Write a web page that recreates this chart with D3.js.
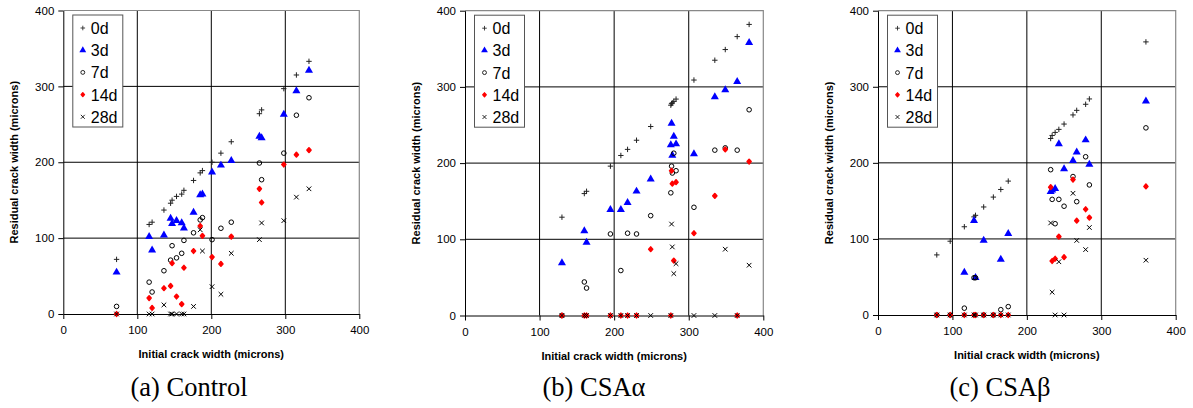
<!DOCTYPE html>
<html>
<head>
<meta charset="utf-8" />
<title>Residual crack width</title>
<script src="https://d3js.org/d3.v7.min.js"></script>
<style>
  body { margin: 0; background: #fff; }
  text { font-family: "Liberation Sans", Arial, sans-serif; }
</style>
</head>
<body>
<svg id="chart" width="1193" height="408"></svg>
<script>
// series labels and tick values
const seriesNames = ["0d", "3d", "7d", "14d", "28d"];
const tickValues = [0, 100, 200, 300, 400];

// (a) Control
const ctrlInitial = [72, 116, 120, 136, 145, 147, 153, 160, 163, 176, 185, 188, 201, 213, 227, 265, 268, 298, 315, 332];
const ctrl0d  = [72, 118, 121, 137, 146, 150, 155, 158, 163, 176, 186, 189, 200, 212, 227, 264, 269, 297, 315, 333];
const ctrl3d  = [55, 102, 84, 104, 126, 119, 123, 120, 113, 134, 157, 158, 187, 196, 202, 234, 232, 263, 294, 321];
const ctrl7d  = [10, 42, 29, 57, 71, 90, 74, 80, 97, 107, 124, 127, 98, 113, 121, 199, 177, 212, 262, 285];
const ctrl14d = [0, 21, 8, 34, 37, 67, 23, 13, 61, 83, 116, 103, 75, 66, 102, 165, 147, 197, 210, 216];
const ctrl28d = [0, 0, 0, 12, 0, 0, 0, 0, 0, 10, 111, 83, 36, 26, 80, 98, 120, 123, 154, 165];

// (b) CSAα
const alphaInitial = [130, 160, 163, 195, 209, 218, 230, 249, 276, 277, 278, 280, 283, 307, 335, 349, 365, 381];
const alpha0d  = [129, 160, 163, 196, 210, 218, 230, 248, 276, 278, 279, 281, 284, 309, 335, 349, 366, 382];
const alpha3d  = [69, 111, 96, 139, 139, 148, 163, 179, 224, 252, 210, 235, 225, 212, 287, 296, 307, 358];
const alpha7d  = [0, 44, 36, 107, 59, 108, 107, 131, 161, 196, 187, 213, 190, 142, 217, 220, 217, 270];
const alpha14d = [0, 0, 0, 0, 0, 0, 0, 87, 0, 190, 173, 72, 175, 108, 157, 218, 0, 202];
const alpha28d = [0, 0, 0, 0, 0, 0, 0, 0, 0, 120, 90, 55, 68, 0, 0, 87, 0, 66];

// (c) CSAβ
const betaInitial = [79, 97, 116, 129, 131, 142, 155, 165, 175, 232, 234, 238, 243, 250, 262, 267, 279, 284, 360];
const beta0d  = [79, 97, 116, 129, 131, 142, 155, 165, 176, 232, 236, 240, 244, 251, 263, 269, 277, 284, 359];
const beta3d  = [null, null, 56, 124, 49, 98, null, 73, 107, 162, 164, 166, 225, 192, 203, 214, 230, 198, 281];
const beta7d  = [0, 0, 9, 49, 49, 0, 0, 7, 11, 191, 152, 120, 152, 143, 182, 149, 208, 171, 246];
const beta14d = [0, 0, 0, 0, 0, 0, 0, 0, 0, 168, 71, 74, 103, 76, 178, 124, 139, 128, 169];
const beta28d = [0, 0, 0, 0, 0, 0, 0, 0, 0, 121, 30, 0, 70, 0, 160, 98, 86, 115, 72];

const panels = [
  { caption: "(a) Control", capX: 189, left: 63.3, right: 359.3, top: 10.5, bottom: 314,
    x: ctrlInitial, ys: [ctrl0d, ctrl3d, ctrl7d, ctrl14d, ctrl28d] },
  { caption: "(b) CSAα", capX: 594, left: 465, right: 763.3, top: 10.7, bottom: 315.5,
    x: alphaInitial, ys: [alpha0d, alpha3d, alpha7d, alpha14d, alpha28d] },
  { caption: "(c) CSAβ", capX: 1000, left: 878, right: 1175.7, top: 10.7, bottom: 315,
    x: betaInitial, ys: [beta0d, beta3d, beta7d, beta14d, beta28d] }
];

const svg = d3.select("#chart");

// draws one marker of series k at (0,0) inside group g
function marker(g, k) {
  if (k === 0) {
    g.append("path").attr("d", "M-2.7,0H2.7M0,-2.7V2.7")
      .attr("stroke", "#222").attr("stroke-width", 1).attr("fill", "none");
  } else if (k === 1) {
    g.append("path").attr("d", d3.symbol().type(d3.symbolTriangle).size(28)())
      .attr("fill", "#0000ff");
  } else if (k === 2) {
    g.append("circle").attr("r", 2.3).attr("fill", "none")
      .attr("stroke", "#000").attr("stroke-width", 1);
  } else if (k === 3) {
    g.append("path").attr("d", "M0,-2.3L2,0L0,2.3L-2,0Z")
      .attr("fill", "#ff0000").attr("stroke", "#ff0000").attr("stroke-width", 1.6)
      .attr("stroke-linejoin", "round");
  } else {
    g.append("path").attr("d", "M-2.3,-2.3L2.3,2.3M-2.3,2.3L2.3,-2.3")
      .attr("stroke", "#000").attr("stroke-width", 1).attr("fill", "none");
  }
}

panels.forEach(function(p) {
  const x = d3.scaleLinear().domain([0, 400]).range([p.left, p.right]);
  const y = d3.scaleLinear().domain([0, 400]).range([p.bottom, p.top]);
  const g = svg.append("g");

  // grid
  g.selectAll(".vg").data(tickValues.slice(1, 4)).enter().append("line")
    .attr("x1", d => x(d)).attr("x2", d => x(d))
    .attr("y1", p.top).attr("y2", p.bottom)
    .attr("stroke", "#000").attr("stroke-width", 1);
  g.selectAll(".hg").data(tickValues.slice(1, 4)).enter().append("line")
    .attr("x1", p.left).attr("x2", p.right)
    .attr("y1", d => y(d)).attr("y2", d => y(d))
    .attr("stroke", "#000").attr("stroke-width", 1);
  // gray border top/right
  g.append("path")
    .attr("d", `M${p.left},${p.top}H${p.right}V${p.bottom}`)
    .attr("fill", "none").attr("stroke", "#888").attr("stroke-width", 1.2);

  // axes
  const yAxis = d3.axisLeft(y).tickValues(tickValues).tickSize(5).tickSizeOuter(0);
  const xAxis = d3.axisBottom(x).tickValues(tickValues).tickSize(5).tickSizeOuter(0);
  const ya = g.append("g").attr("transform", `translate(${p.left},0)`).call(yAxis);
  const xa = g.append("g").attr("transform", `translate(0,${p.bottom})`).call(xAxis);
  [ya, xa].forEach(a => {
    a.select(".domain").attr("stroke", "#000");
    a.selectAll(".tick line").attr("stroke", "#000");
    a.selectAll("text").attr("font-size", 11.5).attr("fill", "#000")
      .style("font-family", '"Liberation Sans", Arial, sans-serif');
  });
  ya.selectAll("text").attr("x", -9);
  xa.selectAll("text").attr("y", 12);

  // axis titles
  g.append("text")
    .attr("x", (p.left + p.right) / 2).attr("y", p.bottom + 44)
    .attr("text-anchor", "middle").attr("font-size", 11).attr("font-weight", "bold")
    .text("Initial crack width (microns)");
  g.append("text")
    .attr("transform", `translate(${p.left - 45},${(p.top + p.bottom) / 2}) rotate(-90)`)
    .attr("text-anchor", "middle").attr("font-size", 11).attr("font-weight", "bold")
    .text("Residual crack width (microns)");

  // points
  p.ys.forEach(function(vals, k) {
    const pts = p.x.map((xv, i) => [xv, vals[i]]).filter(d => d[1] !== null);
    g.append("g").selectAll("g").data(pts).enter().append("g")
      .attr("transform", d => `translate(${x(d[0])},${y(d[1])})`)
      .each(function() { marker(d3.select(this), k); });
  });

  // legend
  const lg = g.append("g").attr("transform", `translate(${p.left + 9.5},${p.top + 4.5})`);
  lg.append("rect").attr("width", 50).attr("height", 112)
    .attr("fill", "#fff").attr("stroke", "#555").attr("stroke-width", 1);
  seriesNames.forEach(function(name, k) {
    const row = lg.append("g").attr("transform", `translate(0,${13 + k * 22.2})`);
    marker(row.append("g").attr("transform", "translate(10,0) scale(0.85)"), k);
    row.append("text").attr("x", 18).attr("y", 6).attr("font-size", 16).attr("fill", "#000").text(name);
  });

  // caption
  g.append("text")
    .attr("x", p.capX).attr("y", 396)
    .attr("text-anchor", "middle").attr("font-size", 26.5)
    .style("font-family", '"Liberation Serif", "Times New Roman", serif')
    .text(p.caption);
});
</script>
</body>
</html>
